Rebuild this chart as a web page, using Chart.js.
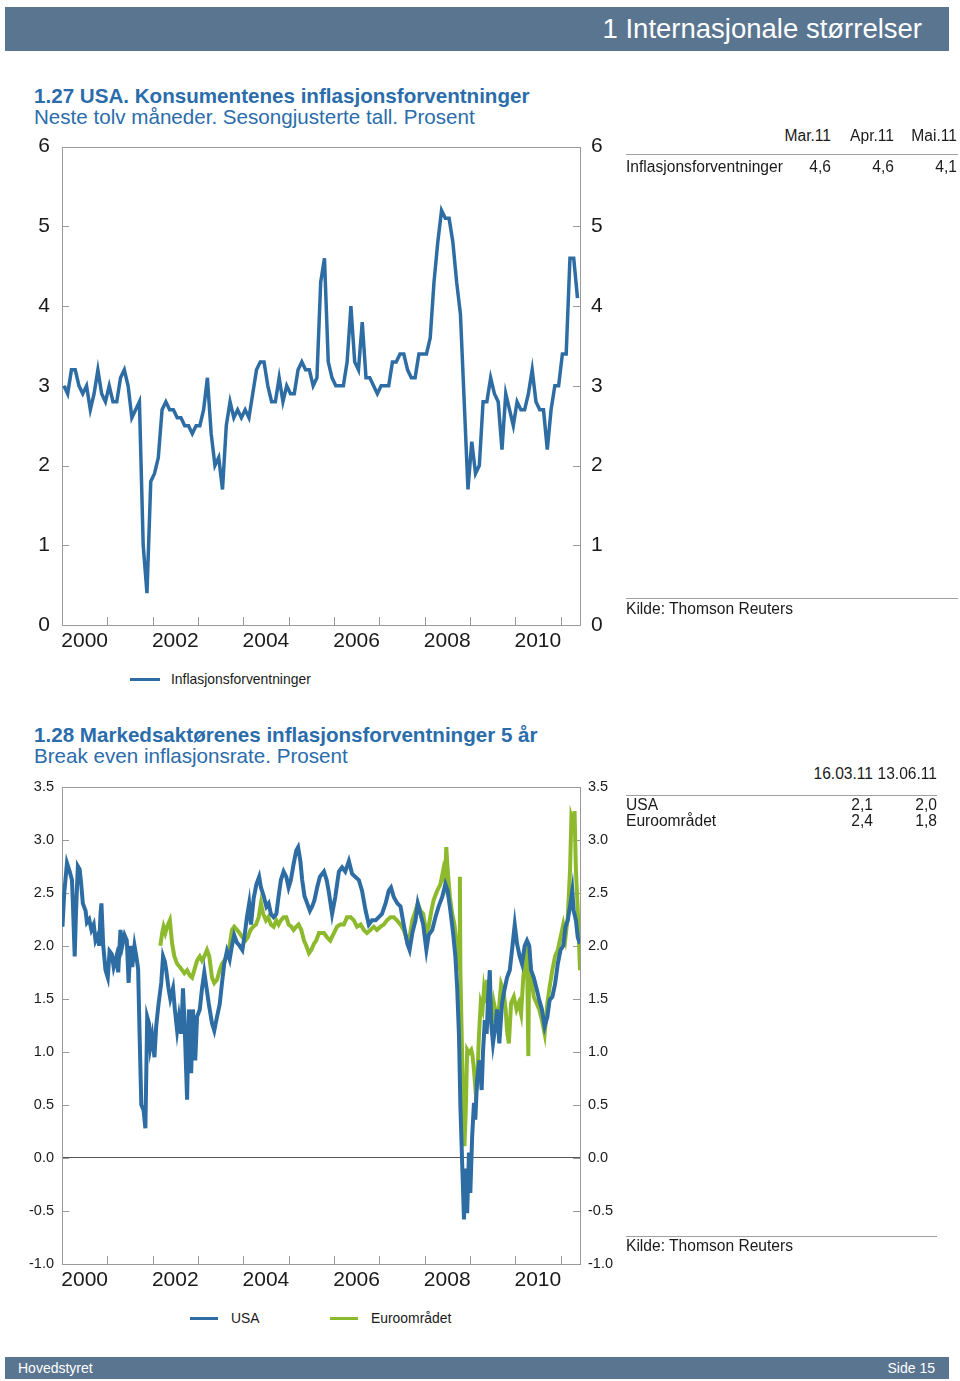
<!DOCTYPE html>
<html>
<head>
<meta charset="utf-8">
<script src="https://cdn.jsdelivr.net/npm/chart.js@4.4.0/dist/chart.umd.min.js"></script>
<style>
  body { margin:0; width:960px; height:1381px; position:relative; background:#fff; overflow:hidden;
         font-family:"Liberation Sans", Arial, Helvetica, sans-serif; color:#1a1a1a; }
  .abs { position:absolute; white-space:nowrap; }
  .bar { position:absolute; left:5px; width:944px; background:#5a7590; color:#fff; }
  .title { color:#2b6cab; font-size:20.6px; line-height:22px; }
  .title b { font-weight:bold; }
  .tbl { font-size:15.6px; line-height:16px; }
  .r { text-align:right; }
  .rule { position:absolute; height:1px; background:#a0a0a0; }
  .leg { position:absolute; height:3px; }
  .legtxt { position:absolute; font-size:13.9px; line-height:16px; white-space:nowrap; }
  canvas { position:absolute; left:0; }
</style>
</head>
<body>

<div class="bar" style="top:7px;height:44px;">
  <div class="abs" style="right:27px;top:7px;font-size:27.5px;line-height:30px;">1 Internasjonale størrelser</div>
</div>

<!-- 1.27 -->
<div class="abs title" style="left:34px;top:85px;"><b>1.27 USA. Konsumentenes inflasjonsforventninger</b></div>
<div class="abs title" style="left:34px;top:106px;">Neste tolv måneder. Sesongjusterte tall. Prosent</div>

<canvas id="c1" width="640" height="548" style="top:122px;"></canvas>

<div class="leg" style="left:130px;top:678px;width:30px;background:#2e6da4;"></div>
<div class="legtxt" style="left:171px;top:671px;">Inflasjonsforventninger</div>

<div class="abs tbl r" style="right:129px;top:128px;">Mar.11</div>
<div class="abs tbl r" style="right:66px;top:128px;">Apr.11</div>
<div class="abs tbl r" style="right:3px;top:128px;">Mai.11</div>
<div class="rule" style="left:626px;top:154px;width:332px;"></div>
<div class="abs tbl" style="left:626px;top:159px;">Inflasjonsforventninger</div>
<div class="abs tbl r" style="right:129px;top:159px;">4,6</div>
<div class="abs tbl r" style="right:66px;top:159px;">4,6</div>
<div class="abs tbl r" style="right:3px;top:159px;">4,1</div>
<div class="rule" style="left:626px;top:598px;width:332px;"></div>
<div class="abs tbl" style="left:626px;top:601px;">Kilde: Thomson Reuters</div>

<!-- 1.28 -->
<div class="abs title" style="left:34px;top:724px;"><b>1.28 Markedsaktørenes inflasjonsforventninger 5 år</b></div>
<div class="abs title" style="left:34px;top:745px;">Break even inflasjonsrate. Prosent</div>

<canvas id="c2" width="640" height="540" style="top:770px;"></canvas>

<div class="leg" style="left:190px;top:1317px;width:28px;background:#2e6da4;"></div>
<div class="legtxt" style="left:231px;top:1310px;">USA</div>
<div class="leg" style="left:330px;top:1317px;width:28px;background:#8dba2d;"></div>
<div class="legtxt" style="left:371px;top:1310px;">Euroområdet</div>

<div class="abs tbl r" style="right:87px;top:766px;">16.03.11</div>
<div class="abs tbl r" style="right:23px;top:766px;">13.06.11</div>
<div class="rule" style="left:626px;top:795px;width:311px;"></div>
<div class="abs tbl" style="left:626px;top:797px;">USA</div>
<div class="abs tbl r" style="right:87px;top:797px;">2,1</div>
<div class="abs tbl r" style="right:23px;top:797px;">2,0</div>
<div class="abs tbl" style="left:626px;top:813px;">Euroområdet</div>
<div class="abs tbl r" style="right:87px;top:813px;">2,4</div>
<div class="abs tbl r" style="right:23px;top:813px;">1,8</div>
<div class="rule" style="left:626px;top:1236px;width:311px;"></div>
<div class="abs tbl" style="left:626px;top:1238px;">Kilde: Thomson Reuters</div>

<div class="bar" style="top:1357px;height:22px;">
  <div class="abs" style="left:13px;top:3px;font-size:14px;line-height:16px;">Hovedstyret</div>
  <div class="abs" style="right:14px;top:3px;font-size:14px;line-height:16px;">Side 15</div>
</div>

<script>
// === Data 1.27: 12 mnd forventet inflasjon, månedlig jan 2000 - mai 2011 ===
const inflExp2000 = [3.0, 2.9, 3.2, 3.2, 3.0, 2.9, 3.0, 2.7, 2.9, 3.2, 2.9, 2.8];
const inflExp2001 = [3.0, 2.8, 2.8, 3.1, 3.2, 3.0, 2.6, 2.7, 2.8, 1.0, 0.4, 1.8];
const inflExp2002 = [1.9, 2.1, 2.7, 2.8, 2.7, 2.7, 2.6, 2.6, 2.5, 2.5, 2.4, 2.5];
const inflExp2003 = [2.5, 2.7, 3.1, 2.4, 2.0, 2.1, 1.7, 2.5, 2.8, 2.6, 2.7, 2.6];
const inflExp2004 = [2.7, 2.6, 2.9, 3.2, 3.3, 3.3, 3.0, 2.8, 2.8, 3.1, 2.8, 3.0];
const inflExp2005 = [2.9, 2.9, 3.2, 3.3, 3.2, 3.2, 3.0, 3.1, 4.3, 4.6, 3.3, 3.1];
const inflExp2006 = [3.0, 3.0, 3.0, 3.3, 4.0, 3.3, 3.2, 3.8, 3.1, 3.1, 3.0, 2.9];
const inflExp2007 = [3.0, 3.0, 3.0, 3.3, 3.3, 3.4, 3.4, 3.2, 3.1, 3.1, 3.4, 3.4];
const inflExp2008 = [3.4, 3.6, 4.3, 4.8, 5.2, 5.1, 5.1, 4.8, 4.3, 3.9, 2.8, 1.7];
const inflExp2009 = [2.3, 1.9, 2.0, 2.8, 2.8, 3.1, 2.9, 2.8, 2.2, 2.9, 2.7, 2.5];
const inflExp2010 = [2.8, 2.7, 2.7, 2.9, 3.2, 2.8, 2.7, 2.7, 2.2, 2.7, 3.0, 3.0];
const inflExp2011 = [3.4, 3.4, 4.6, 4.6, 4.1];

// === Data 1.28: break even 5 år. Tid = år etter 1.1.2000 ===
const usaT = [
  0.00, 0.01, 0.05, 0.11, 0.17, 0.22, 0.24, 0.28, 0.31, 0.35, 0.39, 0.42, 0.46, 0.52, 0.55, 0.60,
  0.65, 0.70, 0.74, 0.79, 0.82, 0.85, 0.87, 0.91, 0.96, 1.01, 1.05, 1.10, 1.14, 1.20, 1.24, 1.29,
  1.33, 1.38, 1.43, 1.47, 1.51, 1.55, 1.60, 1.64, 1.68, 1.71, 1.75, 1.80, 1.84, 1.88, 1.92, 1.95,
  1.99, 2.04, 2.08, 2.13, 2.19, 2.23, 2.27, 2.30, 2.35, 2.39, 2.45, 2.49, 2.54, 2.58, 2.63, 2.67,
  2.71, 2.76, 2.80, 2.85, 2.89, 2.94, 2.98, 3.04, 3.09, 3.14, 3.19, 3.24, 3.31, 3.36, 3.42, 3.48,
  3.53, 3.58, 3.64, 3.70, 3.75, 3.80, 3.86, 3.92, 3.98, 4.03, 4.08, 4.13, 4.17, 4.23, 4.29, 4.35,
  4.39, 4.45, 4.51, 4.56, 4.61, 4.67, 4.73, 4.78, 4.83, 4.89, 4.95, 5.00, 5.05, 5.11, 5.17, 5.21,
  5.26, 5.30, 5.35, 5.41, 5.47, 5.52, 5.57, 5.63, 5.69, 5.78, 5.84, 5.89, 5.96, 6.03, 6.11, 6.18,
  6.25, 6.33, 6.40, 6.47, 6.55, 6.62, 6.70, 6.77, 6.84, 6.92, 6.99, 7.06, 7.14, 7.21, 7.26, 7.32,
  7.40, 7.47, 7.54, 7.62, 7.67, 7.73, 7.80, 7.85, 7.91, 7.97, 8.04, 8.09, 8.17, 8.24, 8.31, 8.39,
  8.46, 8.51, 8.57, 8.63, 8.68, 8.72, 8.76, 8.79, 8.83, 8.87, 8.90, 8.94, 8.98, 9.01, 9.05, 9.09,
  9.12, 9.16, 9.21, 9.26, 9.29, 9.33, 9.37, 9.40, 9.44, 9.47, 9.51, 9.57, 9.60, 9.65, 9.71, 9.77,
  9.82, 9.88, 9.93, 9.99, 10.04, 10.10, 10.15, 10.21, 10.26, 10.31, 10.35, 10.41, 10.47, 10.53, 10.59, 10.65,
  10.71, 10.76, 10.82, 10.88, 10.94, 11.00, 11.06, 11.11, 11.16, 11.22, 11.26, 11.29, 11.34, 11.38, 11.43
];
const usaV = [
  2.27, 2.18, 2.5, 2.78, 2.7, 2.62, 2.4, 1.9, 2.33, 2.75, 2.72, 2.6, 2.4, 2.33, 2.22, 2.25,
  2.15, 2.2, 2.05, 2.1, 2.0, 2.3, 2.4, 2.0, 1.77, 1.7, 1.95, 1.92, 1.8, 1.9, 1.75, 2.15,
  2.0, 2.1, 2.05, 1.65, 2.0, 1.8, 2.0, 1.9, 1.78, 1.2, 0.5, 0.45, 0.28, 1.33, 1.27, 1.05,
  1.15, 0.95, 1.25, 1.45, 1.65, 1.9, 1.85, 1.77, 1.6, 1.5, 1.6, 1.4, 1.2, 1.33, 1.17, 1.6,
  1.2, 0.55, 1.4, 0.8, 1.4, 0.92, 1.33, 1.4, 1.6, 1.75, 1.6, 1.45, 1.27, 1.2, 1.33, 1.45,
  1.65, 1.83, 1.95, 1.87, 2.0, 2.1, 2.03, 2.0, 1.96, 2.1, 2.27, 2.4, 2.2, 2.45, 2.58, 2.65,
  2.55, 2.47, 2.37, 2.4, 2.3, 2.27, 2.3, 2.47, 2.62, 2.7, 2.65, 2.55, 2.62, 2.77, 2.9, 2.93,
  2.8, 2.62, 2.47, 2.4, 2.33, 2.37, 2.43, 2.55, 2.65, 2.7, 2.62, 2.5, 2.3, 2.46, 2.7, 2.74,
  2.7, 2.8, 2.68, 2.65, 2.62, 2.52, 2.33, 2.2, 2.24, 2.24, 2.27, 2.3, 2.4, 2.52, 2.55, 2.46,
  2.4, 2.37, 2.2, 2.02, 1.96, 2.12, 2.24, 2.4, 2.3, 2.2, 1.96, 2.1, 2.15, 2.27, 2.37, 2.46,
  2.58, 2.52, 2.33, 2.12, 1.9, 1.6, 1.15, 0.5, -0.05, -0.58, -0.1, -0.52, 0.05, -0.33, 0.2, 0.52,
  0.36, 0.74, 0.92, 0.64, 1.0, 1.3, 1.17, 1.49, 1.77, 1.27, 1.08, 1.27, 1.4, 1.08, 1.46, 1.6,
  1.7, 1.77, 1.96, 2.2, 2.02, 1.9, 1.83, 2.0, 2.05, 2.0, 1.77, 1.7, 1.6, 1.49, 1.4, 1.24,
  1.33, 1.49, 1.52, 1.64, 1.83, 1.96, 2.0, 2.18, 2.24, 2.4, 2.52, 2.33, 2.24, 2.08, 2.02
];
const euroT = [
  2.17, 2.21, 2.24, 2.28, 2.32, 2.38, 2.43, 2.48, 2.54, 2.60, 2.65, 2.70, 2.76, 2.82, 2.87, 2.92,
  2.98, 3.04, 3.09, 3.14, 3.20, 3.25, 3.31, 3.36, 3.42, 3.48, 3.53, 3.58, 3.64, 3.70, 3.75, 3.80,
  3.86, 3.92, 3.98, 4.05, 4.10, 4.16, 4.22, 4.28, 4.34, 4.39, 4.44, 4.50, 4.55, 4.61, 4.67, 4.73,
  4.78, 4.83, 4.89, 4.95, 5.00, 5.06, 5.11, 5.17, 5.22, 5.28, 5.34, 5.39, 5.45, 5.50, 5.56, 5.61,
  5.67, 5.78, 5.85, 5.92, 6.00, 6.07, 6.14, 6.22, 6.29, 6.37, 6.44, 6.51, 6.59, 6.66, 6.73, 6.81,
  6.88, 6.95, 7.03, 7.10, 7.17, 7.25, 7.32, 7.39, 7.47, 7.54, 7.62, 7.67, 7.73, 7.80, 7.85, 7.91,
  7.97, 8.04, 8.09, 8.15, 8.20, 8.28, 8.35, 8.41, 8.45, 8.48, 8.51, 8.56, 8.61, 8.66, 8.71, 8.74,
  8.77, 8.78, 8.79, 8.82, 8.85, 8.88, 8.91, 8.94, 8.98, 9.03, 9.06, 9.09, 9.13, 9.16, 9.20, 9.24,
  9.28, 9.31, 9.35, 9.38, 9.42, 9.45, 9.49, 9.53, 9.59, 9.64, 9.69, 9.74, 9.79, 9.82, 9.86, 9.91,
  9.97, 10.03, 10.08, 10.13, 10.18, 10.23, 10.26, 10.29, 10.31, 10.35, 10.41, 10.47, 10.53, 10.59, 10.65, 10.71,
  10.77, 10.82, 10.88, 10.94, 11.00, 11.06, 11.11, 11.16, 11.21, 11.24, 11.28, 11.31, 11.34, 11.39, 11.43
];
const euroV = [
  2.0, 2.12, 2.18, 2.12, 2.18, 2.24, 2.02, 1.9, 1.83, 1.8, 1.77, 1.74, 1.77, 1.72, 1.7, 1.77,
  1.86, 1.9, 1.86, 1.9, 1.96, 1.9, 1.7, 1.65, 1.68, 1.77, 1.83, 1.86, 1.9, 2.0, 2.15, 2.18,
  2.15, 2.12, 2.08, 2.05, 2.08, 2.15, 2.18, 2.2, 2.27, 2.4, 2.3, 2.24, 2.27, 2.2, 2.18, 2.24,
  2.2, 2.24, 2.27, 2.27, 2.2, 2.18, 2.15, 2.18, 2.2, 2.15, 2.05, 2.0, 1.93, 1.96, 2.02, 2.05,
  2.12, 2.12, 2.08, 2.05, 2.12, 2.18, 2.2, 2.2, 2.27, 2.27, 2.24, 2.18, 2.2, 2.15, 2.12, 2.15,
  2.18, 2.15, 2.18, 2.2, 2.24, 2.27, 2.27, 2.24, 2.2, 2.15, 2.05, 2.08, 2.24, 2.33, 2.4, 2.33,
  2.3, 2.12, 2.18, 2.33, 2.43, 2.52, 2.58, 2.71, 2.62, 2.93, 2.71, 2.46, 2.3, 2.2, 2.02, 1.77,
  1.9, 2.65, 1.77, 1.15, 0.52, 0.11, 0.45, 1.02, 0.99, 1.02, 0.96, 0.83, 0.61, 0.7, 1.15, 1.46,
  1.4, 1.58, 1.46, 1.68, 1.49, 1.33, 1.27, 1.46, 1.33, 1.4, 1.64, 1.58, 1.4, 1.2, 1.08, 1.46,
  1.52, 1.4, 1.46, 1.36, 1.71, 1.9, 2.0, 0.96, 1.96, 1.71, 1.52, 1.46, 1.4, 1.3, 1.17, 1.46,
  1.64, 1.77, 1.9, 1.96, 2.08, 2.2, 2.08, 2.27, 2.71, 3.21, 3.15, 3.27, 2.71, 2.24, 1.77
];

const yearLabels = [2000, 2002, 2004, 2006, 2008, 2010];
const X_MIN = 2000, X_MAX = 2011.43;

const BLUE = '#2e6da4', GREEN = '#8dba2d';
Chart.defaults.font.family = '"Liberation Sans", Arial, Helvetica, sans-serif';
Chart.defaults.color = '#1a1a1a';

// månedlig punkt midt i måneden
const monthPts = vals => vals.map((v, i) => ({ x: Math.min(X_MAX, 2000 + (i + 0.5) / 12), y: v }));
const timePts = (ts, vs) => ts.map((t, i) => ({ x: 2000 + t, y: vs[i] }));

// === Ramme og innovervendte tikkmerker ===
const frameTicks = {
  id: 'frameTicks',
  beforeDatasetsDraw(chart) {
    const { ctx, chartArea: a, scales } = chart;
    ctx.save();
    ctx.strokeStyle = '#9a9a9a';
    ctx.lineWidth = 1;
    ctx.strokeRect(Math.round(a.left) + 0.5, Math.round(a.top) + 0.5,
                   Math.round(a.right - a.left), Math.round(a.bottom - a.top));
    ctx.beginPath();
    scales.y.ticks.forEach(t => {
      const p = Math.round(scales.y.getPixelForValue(t.value)) + 0.5;
      ctx.moveTo(a.left, p); ctx.lineTo(a.left + 7, p);
      ctx.moveTo(a.right - 7, p); ctx.lineTo(a.right, p);
    });
    for (let yr = 2001; yr <= 2011; yr++) {
      const p = Math.round(scales.x.getPixelForValue(yr)) + 0.5;
      ctx.moveTo(p, a.bottom); ctx.lineTo(p, a.bottom - 8);
    }
    ctx.stroke();
    ctx.restore();
  }
};

function xAxis() {
  return {
    type: 'linear', min: X_MIN, max: X_MAX,
    afterBuildTicks: s => { s.ticks = yearLabels.map(v => ({ value: v + 0.5 })); },
    afterFit: s => { s.height = 40; },
    ticks: { autoSkip: false, maxRotation: 0, padding: -4, font: { size: 21 },
             callback: v => String(Math.floor(v)) },
    grid: { display: false }, border: { display: false }
  };
}

function yAxis(pos, min, max, step, size, pad, width, fmt, zero) {
  return {
    position: pos, min: min, max: max,
    afterFit: s => { s.width = width; },
    ticks: { stepSize: step, padding: pad, font: { size: size }, callback: fmt },
    grid: { display: !!zero, drawTicks: false,
            color: c => (zero && c.tick && c.tick.value === 0) ? '#555' : 'rgba(0,0,0,0)' },
    border: { display: false }
  };
}

// === 1.27 ===
const inflExp = [].concat(inflExp2000, inflExp2001, inflExp2002, inflExp2003, inflExp2004, inflExp2005,
                          inflExp2006, inflExp2007, inflExp2008, inflExp2009, inflExp2010, inflExp2011);
new Chart(document.getElementById('c1'), {
  type: 'line',
  data: { datasets: [{
    label: 'Inflasjonsforventninger', data: monthPts(inflExp),
    borderColor: BLUE, borderWidth: 3.5, pointRadius: 0, tension: 0, fill: false
  }]},
  options: {
    responsive: false, animation: false,
    layout: { padding: { top: 16, left: 0, right: 20, bottom: 5 } },
    plugins: { legend: { display: false }, tooltip: { enabled: false } },
    scales: {
      x: xAxis(),
      y: yAxis('left', 0, 6, 1, 21, 12, 62, v => String(v)),
      y2: yAxis('right', 0, 6, 1, 21, 11, 40, v => String(v))
    }
  },
  plugins: [frameTicks]
});

// === 1.28 ===
const fmt1 = v => v.toFixed(1);
new Chart(document.getElementById('c2'), {
  type: 'line',
  data: { datasets: [
    { label: 'USA', data: timePts(usaT, usaV),
      borderColor: BLUE, borderWidth: 4, pointRadius: 0, tension: 0, fill: false },
    { label: 'Euroområdet', data: timePts(euroT, euroV),
      borderColor: GREEN, borderWidth: 4, pointRadius: 0, tension: 0, fill: false }
  ]},
  options: {
    responsive: false, animation: false,
    layout: { padding: { top: 16, left: 0, right: 20, bottom: 6 } },
    plugins: { legend: { display: false }, tooltip: { enabled: false } },
    scales: {
      x: xAxis(),
      y: yAxis('left', -1, 3.5, 0.5, 14.5, 8, 62, fmt1, true),
      y2: yAxis('right', -1, 3.5, 0.5, 14.5, 8, 40, fmt1, false)
    }
  },
  plugins: [frameTicks]
});
</script>
</body>
</html>
